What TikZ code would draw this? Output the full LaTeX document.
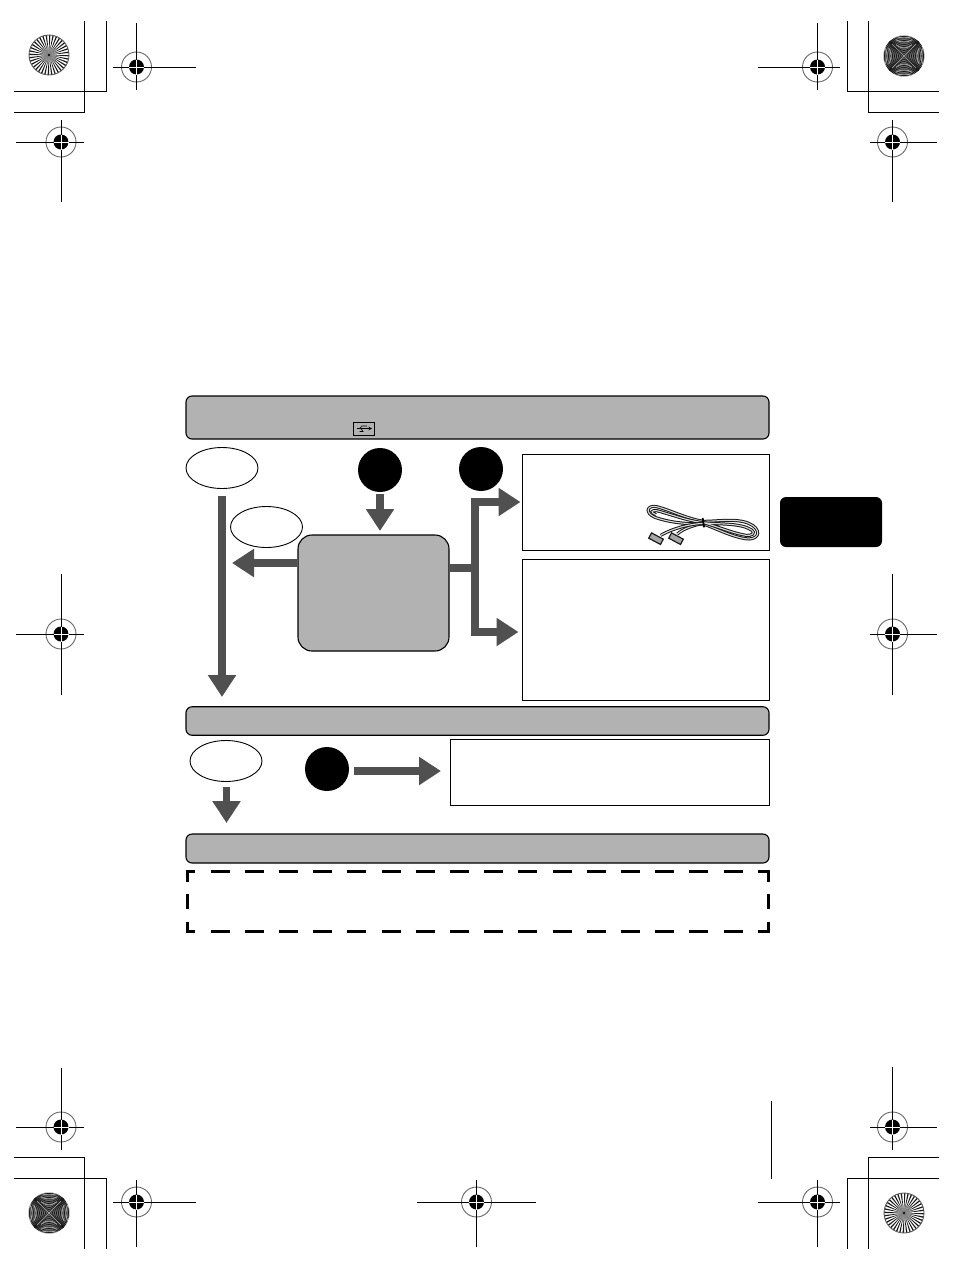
\documentclass[tikz,border=0pt]{standalone}
\usetikzlibrary{arrows.meta,shapes.geometric}

\newcommand{\regmark}[6]{
  \begin{scope}[shift={(#1,#2)}]
    \draw[regring] (0,0) circle[radius=15];
    \fill (0,0) circle[radius=7.5];
    \draw[regline] (-#3,0) -- (#4,0) (0,-#5) -- (0,#6);
    \draw[white, line width=1pt] (-7.5,0) -- (7.5,0) (0,-7.5) -- (0,7.5);
  \end{scope}
}
\newcommand{\stardisc}[2]{
  \begin{scope}[shift={(#1,#2)}]
    \foreach \a in {0,10,...,350} {
      \fill[black!90] (0,0) -- (\a:20) -- (\a+4:20) -- cycle;
    }
    \fill[black!45, opacity=.6] (0,0) circle[radius=8];
    \fill (0,0) circle[radius=1.2];
    \draw[black!65, line width=.9pt] (0,0) circle[radius=20];
  \end{scope}
}
\newcommand{\saddledisc}[2]{
  \begin{scope}[shift={(#1,#2)}]
    \fill[black!58] (0,0) circle[radius=20.5];
    \clip (0,0) circle[radius=20.5];
    \foreach \c in {1.5,3.5,...,19.5} {
      \draw[moire] plot[domain=-21:21, samples=29, variable=\t] ({sqrt(\c*\c+\t*\t)},\t);
      \draw[moire] plot[domain=-21:21, samples=29, variable=\t] ({-sqrt(\c*\c+\t*\t)},\t);
      \draw[moire] plot[domain=-21:21, samples=29, variable=\t] (\t,{sqrt(\c*\c+\t*\t)});
      \draw[moire] plot[domain=-21:21, samples=29, variable=\t] (\t,{-sqrt(\c*\c+\t*\t)});
    }
    \foreach \c in {8,14,18} {
      \draw[moirelight] plot[domain=-8:8, samples=13, variable=\t] (\t,{sqrt(\c*\c+\t*\t)});
      \draw[moirelight] plot[domain=-8:8, samples=13, variable=\t] (\t,{-sqrt(\c*\c+\t*\t)});
    }
    \foreach \c in {13,17} {
      \draw[moirelight] plot[domain=-8:8, samples=13, variable=\t] ({sqrt(\c*\c+\t*\t)},\t);
      \draw[moirelight] plot[domain=-8:8, samples=13, variable=\t] ({-sqrt(\c*\c+\t*\t)},\t);
    }
    \draw[black!35, line width=.7pt] (-12,-12) -- (12,12) (-12,12) -- (12,-12);
  \end{scope}
}

\begin{document}
\begin{tikzpicture}[
  x = 1pt, y = -1pt,
  regring/.style = {draw = black!60, line width = .9pt},
  regline/.style = {draw = black, line width = 1pt},
  trimline/.style = {draw = black, line width = 1pt},
  moire/.style = {draw = black!90, line width = .7pt},
  moirelight/.style = {draw = black!35, line width = .9pt},
  bar/.style = {draw, fill = barfill, line width = 1.1pt, rounded corners = 6pt, inner sep = 0pt},
  oval/.style = {draw, ellipse, line width = .9pt, minimum width = 72pt, minimum height = 41pt, inner sep = 0pt},
  blackdot/.style = {circle, fill = black, minimum size = 44pt, inner sep = 0pt},
  plainbox/.style = {draw, line width = 1pt, inner sep = 0pt},
  bigarrow/.style = {draw = arrowgrey, line width = 7.5pt, -{Triangle[width = 27pt, length = 22pt]}},
  dashlong/.style = {line width = 3pt, dash pattern = on 19pt off 15.2pt, dash phase = 10pt,
    shorten < = -1.5pt, shorten > = -1.5pt},
  dashshort/.style = {line width = 3pt, dash pattern = on 15pt off 12.4pt, dash phase = 5pt},
  cable/.style = {draw = black!90, line width = 1pt, double = black!15, double distance = 1.1pt},
  plug/.style = {draw = black!90, fill = black!35, line width = 1.2pt},
]
  \definecolor{barfill}{HTML}{B2B2B2}
  \definecolor{arrowgrey}{HTML}{505050}
  \useasboundingbox (0,0) rectangle (954,1270);

  % trim corners
  \draw[trimline] (14,112) -- (84.5,112) -- (84.5,21);
  \draw[trimline] (14,91) -- (106.5,91) -- (106.5,21);
  \draw[trimline] (939,91) -- (847.5,91) -- (847.5,21);
  \draw[trimline] (939,112) -- (868.5,112) -- (868.5,21);
  \draw[trimline] (14,1157) -- (84.5,1157) -- (84.5,1249);
  \draw[trimline] (14,1178) -- (106.5,1178) -- (106.5,1249);
  \draw[trimline] (939,1178) -- (847.5,1178) -- (847.5,1249);
  \draw[trimline] (939,1157) -- (868.5,1157) -- (868.5,1249);
  \draw[trimline] (771,1101) -- (771,1179);

  % register marks
  \regmark{136.5}{67}{23.5}{59.5}{44}{22.5}
  \regmark{817.5}{67}{59.5}{22.5}{44}{22.5}
  \regmark{61}{142}{45}{23}{22}{60}
  \regmark{892.5}{142}{22.5}{44.5}{22}{60}
  \regmark{61}{634}{45}{23}{60}{61}
  \regmark{892.5}{634}{22.5}{44.5}{60}{61}
  \regmark{61}{1127}{45}{23}{59}{22.5}
  \regmark{892.5}{1127}{22.5}{44.5}{60}{22.5}
  \regmark{136.5}{1202}{23.5}{59.5}{22.5}{45}
  \regmark{476.5}{1202}{59.5}{59.5}{22.5}{45}
  \regmark{817.5}{1202}{59.5}{22.5}{22.5}{45}

  \stardisc{49}{55}
  \stardisc{904}{1213}
  \saddledisc{904}{56}
  \saddledisc{49}{1213}

  % bars
  \node[bar, minimum width = 583pt, minimum height = 43pt] (barTop) at (477.5,417.5) {};
  \node[bar, minimum width = 583pt, minimum height = 28.5pt] (barMid) at (477.5,721) {};
  \node[bar, minimum width = 583pt, minimum height = 29pt] (barLow) at (477.5,848.5) {};

  % usb icon
  \node[plainbox, line width = .8pt, fill = barfill, minimum width = 21pt, minimum height = 13pt] (usbIcon) at (363.5,428.5) {};
  \draw[line width = .7pt, -{Stealth[length = 3.5pt, width = 3.5pt]}] (356.5,428.5) -- (372,428.5);
  \draw[line width = .6pt] (359.5,428.5) -- (362,426) -- (367,426);
  \draw[line width = .6pt] (361,428.5) -- (363,431.5) -- (359.5,431.5);

  % upper row
  \node[oval] (ovalYes) at (222,468) {};
  \node[oval] (ovalNo) at (266.5,527) {};
  \node[blackdot] (dotB) at (380,470) {};
  \node[blackdot] (dotC) at (481,469) {};
  \node[bar, rounded corners = 14pt, minimum width = 151pt, minimum height = 116pt] (boxMenu) at (373.5,593) {};
  \node[plainbox, minimum width = 247.5pt, minimum height = 96pt] (boxCable) at (645.75,502) {};
  \node[plainbox, minimum width = 247.5pt, minimum height = 141.5pt] (boxSet) at (645.75,629.75) {};
  \node[bar, draw = none, fill = black, minimum width = 102pt, minimum height = 50pt] (tabSide) at (831,522) {};

  \coordinate (tipYes) at (222,697);
  \coordinate (tipDotB) at (380,531);
  \coordinate (tipNo) at (232,563);
  \coordinate (joint) at (475,568);
  \draw[bigarrow] ([yshift=-7pt]ovalYes.south) -- (tipYes);
  \draw[bigarrow] ([yshift=-2pt]dotB.south) -- (tipDotB);
  \draw[bigarrow] ([yshift=30pt]boxMenu.west) -- (tipNo);
  \draw[draw = arrowgrey, line width = 7.5pt] ([yshift=25pt]boxMenu.east) -- (joint);
  \draw[bigarrow] (joint) |- ([xshift=-1pt]boxCable.west);
  \draw[bigarrow] (joint) |- ([xshift=-3pt,yshift=-2.25pt]boxSet.west);

  % cable picture
  \begin{scope}[shift={(640,498)}, x = .3333pt, y = -.3333pt]
    \draw[cable] (190,70) .. controls (140,62) and (90,36) .. (50,26) .. controls (20,20) and (14,45) .. (45,58)
      .. controls (90,74) and (140,78) .. (190,78);
    \draw[cable] (190,74) .. controls (140,68) and (90,48) .. (50,38) .. controls (34,36) and (30,44) .. (48,50);
    \draw[cable] (190,70) .. controls (240,70) and (300,58) .. (338,82) .. controls (368,104) and (350,128) .. (315,122)
      .. controls (270,114) and (230,92) .. (190,78);
    \draw[cable] (190,74) .. controls (240,80) and (300,74) .. (335,96) .. controls (348,106) and (335,114) .. (318,112)
      .. controls (280,106) and (240,88) .. (190,74);
    \draw[cable] (190,76) .. controls (160,82) and (130,92) .. (112,108);
    \draw[cable] (190,76) .. controls (150,78) and (100,90) .. (62,112);
    \draw[line width = 1.8pt] (188,60) -- (192,88);
    \draw[plug, rotate around={-28:(108,122)}] (88,113) rectangle (128,131);
    \draw[plug, rotate around={-28:(48,122)}] (28,113) rectangle (68,131);
  \end{scope}

  % middle row
  \node[oval] (ovalNext) at (226,761) {};
  \node[blackdot] (dotD) at (327,769) {};
  \node[plainbox, minimum width = 319pt, minimum height = 66pt] (boxPrint) at (609.5,772) {};
  \coordinate (tipNext) at (226.5,823);
  \draw[bigarrow] ([yshift=-5pt,xshift=.5pt]ovalNext.south) -- (tipNext);
  \draw[bigarrow] ([xshift=5pt,yshift=-2pt]dotD.east) -- ([xshift=-8.5pt,yshift=1pt]boxPrint.west);

  % dashed note
  \node[minimum width = 580pt, minimum height = 59pt, inner sep = 0pt] (noteDash) at (478,901.5) {};
  \draw[dashlong] (noteDash.north west) -- (noteDash.north east);
  \draw[dashlong] (noteDash.south west) -- (noteDash.south east);
  \draw[dashshort] (noteDash.north west) -- (noteDash.south west);
  \draw[dashshort] (noteDash.north east) -- (noteDash.south east);
\end{tikzpicture}
\end{document}
